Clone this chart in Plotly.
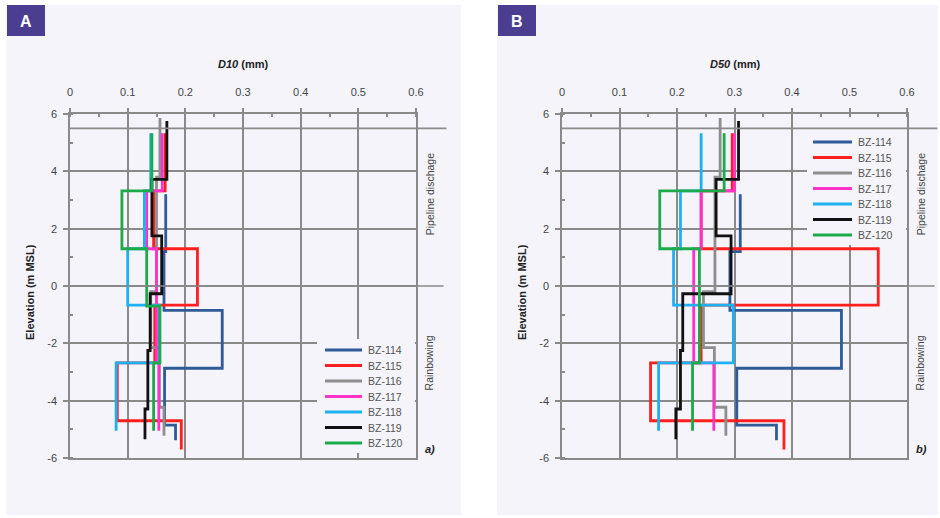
import plotly.graph_objects as go

# ---- borehole profiles: layer boundaries (m MSL) and grain sizes (mm) ----
SERIES = ["BZ-114", "BZ-115", "BZ-116", "BZ-117", "BZ-118", "BZ-119", "BZ-120"]
COLORS = ["#2f5b98", "#ff1f1f", "#8e8e8e", "#ff33cc", "#1fb0f2", "#111111", "#1daa48"]

BZ114_ELEV = [3.2, 1.2, -0.85, -2.87, -4.85, -5.38]
BZ114_D10 = [0.166, 0.163, 0.264, 0.164, 0.183]
BZ114_D50 = [0.310, 0.292, 0.486, 0.304, 0.373]

BZ115_ELEV = [5.33, 3.32, 1.3, -0.67, -2.68, -4.7, -5.7]
BZ115_D10 = [0.165, 0.145, 0.221, 0.147, 0.082, 0.193]
BZ115_D50 = [0.296, 0.242, 0.550, 0.242, 0.154, 0.386]

BZ116_ELEV = [5.86, 3.8, -0.2, -2.15, -4.23, -5.22]
BZ116_D10 = [0.156, 0.150, 0.140, 0.155, 0.163]
BZ116_D50 = [0.275, 0.266, 0.246, 0.265, 0.285]

BZ117_ELEV = [5.33, 3.32, 1.3, -2.68, -5.05]
BZ117_D10 = [0.160, 0.133, 0.150, 0.154]
BZ117_D50 = [0.300, 0.242, 0.229, 0.264]

BZ118_ELEV = [5.33, 3.32, 1.3, -0.67, -2.68, -5.05]
BZ118_D10 = [0.140, 0.129, 0.100, 0.155, 0.080]
BZ118_D50 = [0.242, 0.206, 0.194, 0.298, 0.168]

BZ119_ELEV = [5.76, 3.72, 1.75, -0.27, -2.25, -4.29, -5.35]
BZ119_D10 = [0.168, 0.142, 0.159, 0.139, 0.135, 0.130]
BZ119_D50 = [0.307, 0.268, 0.294, 0.210, 0.206, 0.198]

BZ120_ELEV = [5.33, 3.32, 1.3, -0.7, -2.68, -5.05]
BZ120_D10 = [0.142, 0.090, 0.133, 0.156, 0.145]
BZ120_D50 = [0.282, 0.170, 0.239, 0.239, 0.227]

ELEVS = [BZ114_ELEV, BZ115_ELEV, BZ116_ELEV, BZ117_ELEV, BZ118_ELEV, BZ119_ELEV, BZ120_ELEV]
D10S = [BZ114_D10, BZ115_D10, BZ116_D10, BZ117_D10, BZ118_D10, BZ119_D10, BZ120_D10]
D50S = [BZ114_D50, BZ115_D50, BZ116_D50, BZ117_D50, BZ118_D50, BZ119_D50, BZ120_D50]

X_TICKS = [0, 0.1, 0.2, 0.3, 0.4, 0.5, 0.6]
X_TICK_TEXT = ["0", "0.1", "0.2", "0.3", "0.4", "0.5", "0.6"]
Y_TICKS = [-6, -4, -2, 0, 2, 4, 6]
Y_TICK_TEXT = ["-6", "-4", "-2", "0", "2", "4", "6"]

PIPELINE_TOP = 5.5
ZONE_SPLIT = 0.0

# ---- page geometry (pixels) ----
W, H = 940, 518
FONT = "Liberation Sans, Arial, sans-serif"
PANEL_BG = "#f4f4fa"
GRID = "#8a8a8a"
PURPLE = "#4b3d8f"
LINE_W = 2.8


def fx(px):
    return px / W


def fy(py):
    return 1 - py / H


def step_xy(elev, vals):
    xs, ys = [], []
    for i, v in enumerate(vals):
        xs += [v, v]
        ys += [elev[i], elev[i + 1]]
    return xs, ys


def label(text, x, y, xref="paper", yref="paper", size=11, color="#222", angle=0,
          xanchor="center", yanchor="middle"):
    return dict(text=text, xref=xref, yref=yref, x=x, y=y, textangle=angle, showarrow=False,
                xanchor=xanchor, yanchor=yanchor, font=dict(family=FONT, size=size, color=color))


panels = [
    dict(key="", xl=70, xr=416, bg=(6, 461), tag="A", values=D10S, var="D10", sub="a)",
         leg=(317, 339, 453, 325, 362, 350), zone_x=430),
    dict(key="2", xl=562, xr=907, bg=(497, 938), tag="B", values=D50S, var="D50", sub="b)",
         leg=(807, 117, 245, 813, 852, 142), zone_x=921),
]
PT, PB = 114, 458

fig = go.Figure()
shapes, annotations = [], []
layout = {}

for p in panels:
    k = p["key"]
    xa, ya = "x" + k, "y" + k
    for name, color, elev, vals in zip(SERIES, COLORS, ELEVS, p["values"]):
        xs, ys = step_xy(elev, vals)
        fig.add_trace(go.Scatter(x=xs, y=ys, mode="lines", name=name, xaxis=xa, yaxis=ya,
                                 line=dict(color=color, width=LINE_W), showlegend=False,
                                 hoverinfo="skip"))

    layout["xaxis" + k] = dict(
        domain=[fx(p["xl"]), fx(p["xr"])], anchor=ya, side="top", range=[0, 0.6],
        automargin=False,
        tickvals=X_TICKS, ticktext=X_TICK_TEXT, showgrid=True, gridcolor=GRID, gridwidth=1.6,
        zeroline=False, showline=True, linecolor=GRID, linewidth=1.6, mirror=True,
        ticks="outside", ticklen=4, tickcolor=GRID, tickwidth=1.6,
        tickfont=dict(family=FONT, size=11, color="#444"), ticklabelstandoff=8,
        minor=dict(dtick=0.05, tick0=0, ticks="inside", ticklen=3, tickcolor=GRID, showgrid=False),
        fixedrange=True,
    )
    layout["yaxis" + k] = dict(
        domain=[fy(PB), fy(PT)], anchor=xa, range=[-6, 6],
        automargin=False,
        tickvals=Y_TICKS, ticktext=Y_TICK_TEXT, showgrid=True, gridcolor=GRID, gridwidth=1.6,
        zeroline=False, showline=True, linecolor=GRID, linewidth=1.6, mirror=True,
        ticks="outside", ticklen=5, tickcolor=GRID, tickwidth=1.6,
        tickfont=dict(family=FONT, size=11, color="#444"), ticklabelstandoff=4,
        minor=dict(dtick=1, tick0=0, ticks="inside", ticklen=3, tickcolor=GRID, showgrid=False),
        fixedrange=True,
    )

    # panel background and tag
    shapes.append(dict(type="rect", xref="paper", yref="paper", x0=fx(p["bg"][0]), x1=fx(p["bg"][1]),
                       y0=fy(515), y1=fy(5), fillcolor=PANEL_BG, line=dict(width=0), layer="below"))
    shapes.append(dict(type="rect", xref="paper", yref="paper", x0=fx(p["bg"][0] + 1),
                       x1=fx(p["bg"][0] + 39), y0=fy(36), y1=fy(5), fillcolor=PURPLE,
                       line=dict(width=0), layer="above"))
    annotations.append(label("<b>%s</b>" % p["tag"], fx(p["bg"][0] + 20), fy(21),
                             size=16, color="white"))

    # legend box
    lx0, ly0, ly1, sx0, sx1, row0 = p["leg"]
    shapes.append(dict(type="rect", xref="paper", yref="paper", x0=fx(lx0), x1=fx(p["xr"] - 1),
                       y0=fy(ly1), y1=fy(ly0), fillcolor=PANEL_BG, line=dict(width=0), layer="above"))
    for i, (name, color) in enumerate(zip(SERIES, COLORS)):
        ry = row0 + i * 15.5
        shapes.append(dict(type="line", xref="paper", yref="paper", x0=fx(sx0), x1=fx(sx1),
                           y0=fy(ry), y1=fy(ry), line=dict(color=color, width=LINE_W), layer="above"))
        annotations.append(label(name, fx(sx1 + 4), fy(ry), size=10.5, color="#555",
                                 xanchor="left"))

    # zone divider lines
    shapes.append(dict(type="line", xref=xa + " domain", yref=ya, x0=-0.005, x1=1.088,
                       y0=PIPELINE_TOP, y1=PIPELINE_TOP, line=dict(color=GRID, width=1.6), layer="above"))
    shapes.append(dict(type="line", xref=xa + " domain", yref=ya, x0=0, x1=1.08,
                       y0=ZONE_SPLIT, y1=ZONE_SPLIT, line=dict(color=GRID, width=1.6), layer="above"))

    annotations.append(label("Pipeline dischage", fx(p["zone_x"]), 3.2, yref=ya, angle=-90,
                             size=10.5, color="#444"))
    annotations.append(label("Rainbowing", fx(p["zone_x"] - 1), -2.7, yref=ya, angle=-90,
                             size=10.5, color="#444"))
    annotations.append(label("<b><i>%s</i></b>" % p["sub"], fx(p["zone_x"]), fy(449)))

    # axis titles
    annotations.append(label("<b><i>%s</i> (mm)</b>" % p["var"], fx((p["xl"] + p["xr"]) / 2), fy(64)))
    annotations.append(label("<b>Elevation (m MSL)</b>", fx(p["xl"] - 40), fy(292), angle=-90))

fig.update_layout(
    width=W, height=H, margin=dict(l=0, r=0, t=0, b=0, pad=0, autoexpand=False),
    paper_bgcolor="white", plot_bgcolor="rgba(0,0,0,0)",
    shapes=shapes, annotations=annotations, showlegend=False,
    **layout,
)

fig.write_html("out.html", config={"displayModeBar": False})
